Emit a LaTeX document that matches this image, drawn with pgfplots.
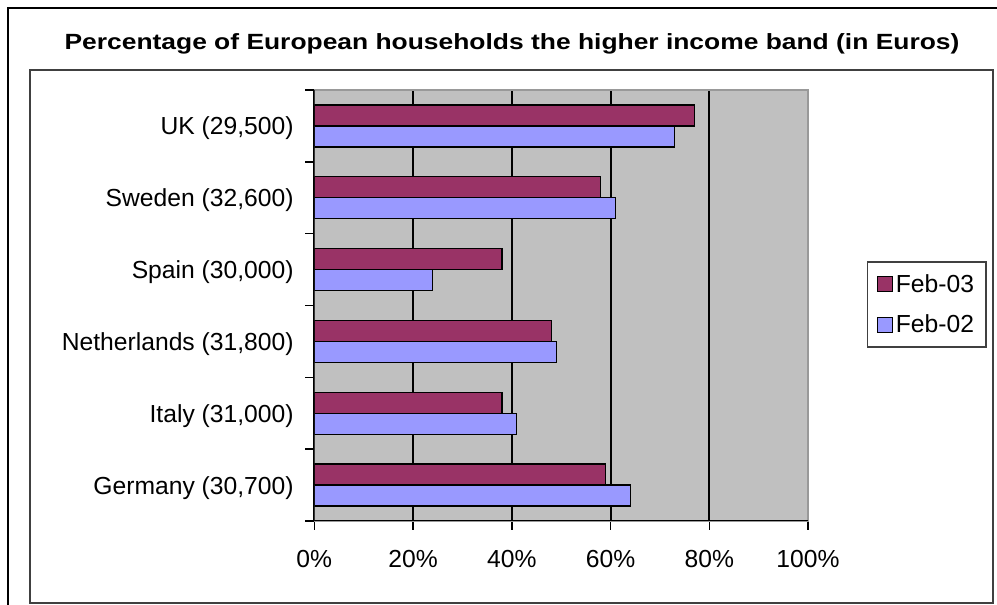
\documentclass[border=0pt]{standalone}
\usepackage{pgfplots}
\pgfplotsset{compat=1.18}
\usepackage{graphicx}
\usepackage{fontspec}
\setmainfont{Liberation Sans}
\definecolor{plum}{HTML}{993366}
\definecolor{peri}{HTML}{9999FF}
\definecolor{plotgray}{HTML}{C0C0C0}
\definecolor{framegray}{HTML}{404040}
\begin{document}
\begin{tikzpicture}[x=0.75pt,y=0.75pt]
\useasboundingbox (0,0) rectangle (997,605);
\draw[black, line width=1.5pt] (8,-10) -- (8,597) -- (1010,597);
\draw[framegray, line width=1.6pt] (30,2) rectangle (993,535);
\node[anchor=base, font=\bfseries\fontsize{16.5}{18}\selectfont] at (512,555)
  {\scalebox{1.2}[1]{Percentage of European households the higher income band (in Euros)}};
\begin{axis}[
  at={(235.725pt,63pt)}, anchor=south west,
  scale only axis, width=370.3pt, height=323.25pt,
  xmin=0, xmax=100, ymin=-0.5, ymax=5.5,
  xbar, bar width=15.75pt,
  axis background/.style={fill=plotgray},
  axis line style={gray!80, line width=1pt},
  xtick={0,20,40,60,80,100},
  xticklabels={0\%,20\%,40\%,60\%,80\%,100\%},
  xtick pos=bottom, ytick pos=left,
  xmajorgrids, major grid style={black, line width=1.5pt},
  ytick={-0.5,0.5,1.5,2.5,3.5,4.5,5.5},
  yticklabels={,,,,,,},
  extra y ticks={0,1,2,3,4,5},
  extra y tick labels={{Germany (30,700)},{Italy (31,000)},{Netherlands (31,800)},{Spain (30,000)},{Sweden (32,600)},{UK (29,500)}},
  extra y tick style={major tick length=0pt, yticklabel style={xshift=-12pt, yshift=-2pt}},
  tick align=outside, major tick length=6.75pt,
  tick style={black, line width=1.1pt},
  ticklabel style={font=\fontsize{18.5}{22}\selectfont},
  xticklabel style={yshift=-12pt},
  legend style={at={(1.1195,0.5023)}, anchor=west, draw=framegray, line width=1pt,
    font=\fontsize{18.5}{22}\selectfont, row sep=11.75pt, inner sep=7pt},
  legend cell align=left,
  legend image code/.code={\draw[#1, line width=0.9pt] (0pt,-5.6pt) rectangle (11.25pt,5.6pt);},
]
\addplot[fill=plum, draw=black, line width=1pt, bar shift=7.875pt]
  coordinates {(59,0) (38,1) (48,2) (38,3) (58,4) (77,5)};
\addplot[fill=peri, draw=black, line width=1pt, bar shift=-7.875pt]
  coordinates {(64,0) (41,1) (49,2) (24,3) (61,4) (73,5)};
\legend{Feb-03,Feb-02}
\draw[black, line width=1.3pt] (axis description cs:0,0) -- (axis description cs:0,1);
\draw[black, line width=1.3pt] (axis description cs:0,0) -- (axis description cs:1,0);
\end{axis}
\end{tikzpicture}
\end{document}
